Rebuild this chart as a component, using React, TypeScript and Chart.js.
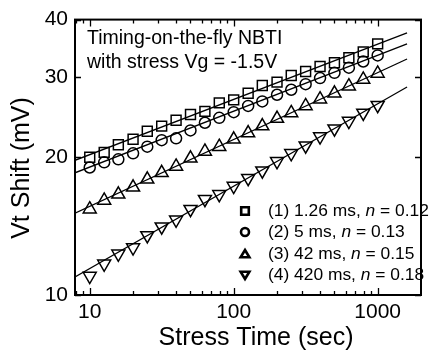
import React, { useEffect, useRef } from 'react';
import { Chart, registerables } from 'chart.js';

Chart.register(...registerables);

// ---- data ----
const stressTime = [10, 12.6, 15.8, 20, 25.1, 31.6, 39.8, 50.1, 63.1, 79.4, 100, 126, 158, 200, 251, 316, 398, 501, 631, 794, 1000];
const shift1 = [20.0, 20.5, 21.3, 21.9, 22.8, 23.4, 24.1, 24.8, 25.2, 26.3, 26.7, 27.6, 28.7, 29.2, 30.2, 30.8, 31.6, 32.2, 33.0, 34.0, 35.4];
const shift2 = [19.0, 19.5, 19.8, 20.4, 21.1, 21.8, 22.0, 22.9, 23.8, 24.4, 25.1, 25.9, 26.5, 27.4, 28.1, 28.9, 29.8, 30.6, 31.4, 32.4, 33.4];
const shift3 = [15.4, 16.1, 16.6, 17.2, 17.9, 18.5, 19.1, 19.9, 20.6, 21.1, 21.9, 22.6, 23.4, 24.3, 25.0, 25.9, 26.8, 27.6, 28.6, 29.6, 30.5];
const shift4 = [11.0, 11.7, 12.3, 12.7, 13.5, 14.1, 14.6, 15.4, 16.2, 16.6, 17.3, 18.0, 18.7, 19.6, 20.4, 21.2, 22.2, 23.1, 24.0, 25.0, 26.0];

const fitTime = [7.9, 1600];
const fit1 = [19.7, 37.4];
const fit2 = [18.5, 35.4];
const fit3 = [15.1, 32.8];
const fit4 = [10.95, 28.5];

const seriesLabels = ['(1) 1.26 ms, ', '(2) 5 ms, ', '(3) 42 ms, ', '(4) 420 ms, '];
const nValues = ['0.12', '0.13', '0.15', '0.18'];
const annotationLines = ['Timing-on-the-fly NBTI', 'with stress Vg = -1.5V'];

const xMajorTicks = [10, 100, 1000];
const xMinorTicks = [8, 9, 20, 30, 40, 50, 60, 70, 80, 90, 200, 300, 400, 500, 600, 700, 800, 900];
const yMajorTicks = [10, 20, 30, 40];

const xTitle = 'Stress Time (sec)';
const yTitle = 'Vt Shift (mV)';

const FONT = '"Liberation Sans", Arial, Helvetica, sans-serif';

const toPoints = (xs: number[], ys: number[]) => xs.map((x, i) => ({ x, y: ys[i] }));

function drawMarker(ctx: CanvasRenderingContext2D, kind: number, cx: number, cy: number, s: number) {
  ctx.beginPath();
  if (kind === 0) {
    ctx.rect(cx - s, cy - s, 2 * s, 2 * s);
  } else if (kind === 1) {
    ctx.arc(cx, cy, s, 0, Math.PI * 2);
  } else if (kind === 2) {
    ctx.moveTo(cx, cy - s * 1.05);
    ctx.lineTo(cx + s * 1.15, cy + s * 0.85);
    ctx.lineTo(cx - s * 1.15, cy + s * 0.85);
    ctx.closePath();
  } else {
    ctx.moveTo(cx, cy + s * 1.05);
    ctx.lineTo(cx + s * 1.15, cy - s * 0.85);
    ctx.lineTo(cx - s * 1.15, cy - s * 0.85);
    ctx.closePath();
  }
  ctx.stroke();
}

const decorPlugin = {
  id: 'decor',
  afterDraw(chart: any) {
    const { ctx, chartArea, scales } = chart;
    const { left, right, top, bottom } = chartArea;
    const xs = scales.x;
    const ys = scales.y;
    ctx.save();
    ctx.strokeStyle = '#000';
    ctx.fillStyle = '#000';

    // frame
    ctx.lineWidth = 2;
    ctx.strokeRect(left, top, right - left, bottom - top);

    // inward ticks
    ctx.lineWidth = 1.3;
    ctx.beginPath();
    xMajorTicks.forEach((v) => {
      const p = Math.round(xs.getPixelForValue(v)) + 0.5;
      ctx.moveTo(p, bottom); ctx.lineTo(p, bottom - 7);
      ctx.moveTo(p, top); ctx.lineTo(p, top + 7);
    });
    xMinorTicks.forEach((v) => {
      const p = Math.round(xs.getPixelForValue(v)) + 0.5;
      ctx.moveTo(p, bottom); ctx.lineTo(p, bottom - 4);
      ctx.moveTo(p, top); ctx.lineTo(p, top + 4);
    });
    yMajorTicks.forEach((v) => {
      const p = Math.round(ys.getPixelForValue(v)) + 0.5;
      ctx.moveTo(left, p); ctx.lineTo(left + 6, p);
      ctx.moveTo(right, p); ctx.lineTo(right - 6, p);
    });
    ctx.stroke();

    // annotation
    ctx.font = `19.5px ${FONT}`;
    ctx.textAlign = 'left';
    ctx.textBaseline = 'alphabetic';
    ctx.fillText(annotationLines[0], left + 12, top + 24);
    ctx.fillText(annotationLines[1], left + 12, top + 48);

    // legend
    const rowY = [211, 232, 254, 275];
    const markX = 245;
    const textX = 268;
    ctx.lineWidth = 2.6;
    seriesLabels.forEach((lab, i) => {
      const yy = rowY[i];
      drawMarker(ctx, i, markX, yy, i === 1 ? 4 : 3.8);
      ctx.textBaseline = 'middle';
      ctx.font = `17.4px ${FONT}`;
      let x = textX;
      ctx.fillText(lab, x, yy);
      x += ctx.measureText(lab).width;
      ctx.font = `italic 17.4px ${FONT}`;
      ctx.fillText('n', x, yy);
      x += ctx.measureText('n').width;
      ctx.font = `17.4px ${FONT}`;
      ctx.fillText(' = ' + nValues[i], x, yy);
    });

    // axis titles
    ctx.font = `25px ${FONT}`;
    ctx.textAlign = 'center';
    ctx.textBaseline = 'middle';
    ctx.fillText(xTitle, 256, 338);
    ctx.save();
    ctx.translate(22, 168);
    ctx.rotate(-Math.PI / 2);
    ctx.fillText(yTitle, 0, 0);
    ctx.restore();

    ctx.restore();
  },
};

export default function App() {
  const canvasRef = useRef<HTMLCanvasElement | null>(null);

  useEffect(() => {
    if (!canvasRef.current) return;
    const markerBase = {
      showLine: false,
      borderColor: '#000',
      backgroundColor: 'rgba(0,0,0,0)',
      pointBorderColor: '#000',
      pointBackgroundColor: 'rgba(0,0,0,0)',
      pointBorderWidth: 1.5,
    };
    const lineBase = {
      showLine: true,
      borderColor: '#000',
      borderWidth: 1.3,
      pointRadius: 0,
      fill: false,
    };
    const chart = new Chart(canvasRef.current, {
      type: 'scatter',
      data: {
        datasets: [
          { ...lineBase, label: 'fit1', data: toPoints(fitTime, fit1) },
          { ...lineBase, label: 'fit2', data: toPoints(fitTime, fit2) },
          { ...lineBase, label: 'fit3', data: toPoints(fitTime, fit3) },
          { ...lineBase, label: 'fit4', data: toPoints(fitTime, fit4) },
          { ...markerBase, label: seriesLabels[0], data: toPoints(stressTime, shift1), pointStyle: 'rect', pointRadius: 7 },
          { ...markerBase, label: seriesLabels[1], data: toPoints(stressTime, shift2), pointStyle: 'circle', pointRadius: 5.5 },
          { ...markerBase, label: seriesLabels[2], data: toPoints(stressTime, shift3), pointStyle: 'triangle', pointRadius: 7.5 },
          { ...markerBase, label: seriesLabels[3], data: toPoints(stressTime, shift4), pointStyle: 'triangle', pointRotation: 180, pointRadius: 7.5 },
        ],
      } as any,
      options: {
        responsive: false,
        animation: false,
        devicePixelRatio: 1,
        layout: { padding: { top: 14, right: 2, left: 0, bottom: 0 } },
        plugins: { legend: { display: false }, tooltip: { enabled: false } },
        scales: {
          x: {
            type: 'logarithmic',
            min: 7.9,
            max: 2000,
            afterBuildTicks: (s: any) => { s.ticks = xMajorTicks.map((v) => ({ value: v })); },
            afterFit: (s: any) => { s.height = 67; },
            ticks: {
              color: '#000',
              font: { family: FONT, size: 21 },
              padding: 5,
              autoSkip: false,
              maxRotation: 0,
              callback: (v: any) => String(v),
            },
            grid: { display: false, drawTicks: false },
            border: { display: false },
          },
          y: {
            type: 'logarithmic',
            min: 10,
            max: 40,
            afterBuildTicks: (s: any) => { s.ticks = yMajorTicks.map((v) => ({ value: v })); },
            afterFit: (s: any) => { s.width = 75; },
            ticks: {
              color: '#000',
              font: { family: FONT, size: 21 },
              padding: 7,
              autoSkip: false,
              callback: (v: any) => String(v),
            },
            grid: { display: false, drawTicks: false },
            border: { display: false },
          },
        },
      } as any,
      plugins: [decorPlugin],
    });
    return () => chart.destroy();
  }, []);

  return (
    <div style={{ position: 'fixed', left: 0, top: 0, width: 430, height: 362, background: '#fff' }}>
      <canvas ref={canvasRef} width={430} height={362} />
    </div>
  );
}
